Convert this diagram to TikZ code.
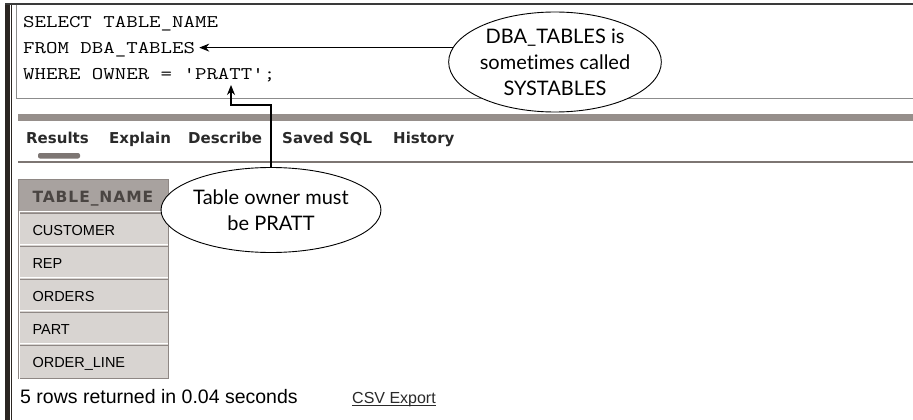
\documentclass[tikz,border=0pt]{standalone}
\usepackage{fontspec}
\usetikzlibrary{shapes.geometric,arrows.meta,calc}
\setmainfont{Liberation Sans}
\newfontfamily\monof[FakeStretch=1.25]{Latin Modern Mono}
\newfontfamily\tabf{DejaVu Sans}
\newfontfamily\hdrf[LetterSpace=6]{DejaVu Sans}
\newfontfamily\callf[Ligatures=NoCommon]{Lato}
\definecolor{topline}{HTML}{3A3A3A}
\definecolor{leftbar}{HTML}{2B2622}
\definecolor{boxborder}{HTML}{8C8C8C}
\definecolor{barcol}{HTML}{968F8B}
\definecolor{tabline}{HTML}{7D7673}
\definecolor{tabtext}{HTML}{2A2A2A}
\definecolor{cellfill}{HTML}{D8D4D1}
\definecolor{cellborder}{HTML}{8E8784}
\definecolor{hdrfill}{HTML}{A8A29F}
\definecolor{hdrtext}{HTML}{4A4542}
\begin{document}
\begin{tikzpicture}[x=1pt,y=-1pt,
  arr/.style={line width=1.1pt, -{Stealth[length=10pt,width=8pt]}},
  callout/.style={ellipse, draw, line width=0.9pt, fill=white, inner sep=0pt, align=center, font=\callf\fontsize{20}{26}\selectfont},
  sqltext/.style={anchor=base west, inner sep=0pt, font=\monof\fontsize{17.8}{24}\selectfont},
  tabtxt/.style={anchor=base west, inner sep=0pt, font=\tabf\bfseries\fontsize{15}{18}\selectfont, text=tabtext},
  cell/.style={rectangle, anchor=north west, draw=cellborder, fill=cellfill, line width=1pt, minimum height=33pt, text width=122pt, inner xsep=14pt, inner ysep=0pt, align=left, text height=10.4pt, text depth=0pt, font=\fontsize{14.5}{17}\selectfont, text=black},
  hdr/.style={cell, fill=hdrfill, text=hdrtext, font=\hdrf\bfseries\fontsize{15.5}{18}\selectfont, text height=11pt, minimum height=34pt},
  plain/.style={anchor=base west, inner sep=0pt}
]
\useasboundingbox (0,0) rectangle (913,420);
\fill[white] (0,0) rectangle (913,420);
% frame
\fill[leftbar] (5,4) rectangle (9.5,420);
\draw[leftbar, line width=1pt] (11,4) -- (11,420);
\draw[topline, line width=2pt] (5,4) -- (913,4);
\draw[boxborder, line width=1pt] (16.5,5) -- (16.5,98.5) -- (915,98.5);
\fill[barcol] (18,114) rectangle (913,121);
\fill[tabline] (18,160.5) rectangle (913,162.5);
\fill[tabline, rounded corners=2pt] (38,153) rectangle (80,158.5);
% SQL
\node[sqltext] (sql1) at (23,28) {SELECT TABLE\_NAME};
\node[sqltext] (sql2) at (23,54) {FROM DBA\_TABLES};
\node[sqltext] (sql3) at (23,80) {WHERE OWNER = 'PRATT';};
\coordinate (pratt) at (231,85);
% tabs
\node[tabtxt] (t1) at (26,143) {Results};
\node[tabtxt] (t2) at (109,143) {Explain};
\node[tabtxt] (t3) at (188,143) {Describe};
\node[tabtxt] (t4) at (282,143) {Saved SQL};
\node[tabtxt] (t5) at (393,143) {History};
% table
\node[hdr] (h) at (18,179) {TABLE\_NAME};
\node[cell] (r1) at (18,213) {CUSTOMER};
\node[cell] (r2) at (18,246) {REP};
\node[cell] (r3) at (18,279) {ORDERS};
\node[cell] (r4) at (18,312) {PART};
\node[cell] (r5) at (18,345) {ORDER\_LINE};
\foreach \n in {r1,r2,r3,r4,r5}{
  \draw[white, line width=1.2pt] ([xshift=1.5pt,yshift=-1.5pt]\n.south west) -- ([xshift=1.5pt,yshift=1.5pt]\n.north west) -- ([xshift=-1.5pt,yshift=1.5pt]\n.north east);
}
\node[plain, font=\fontsize{19.5}{22}\selectfont] (rows) at (20,403) {5 rows returned in 0.04 seconds};
\node[plain, font=\fontsize{16}{18}\selectfont, text=tabtext] (csv) at (352,403) {CSV Export};
\draw[tabtext, line width=0.8pt] ([yshift=-2.5pt]csv.base west) -- ([yshift=-2.5pt]csv.base east);
% callouts
\node[callout, minimum width=212pt, minimum height=100pt] (dba) at (555,62) {DBA\_TABLES is\\sometimes called\\SYSTABLES};
\node[callout, minimum width=187pt, minimum height=85pt] (own) at (271,210) {Table owner must\\be PRATT};
\draw[arr, shorten >=4pt] (dba.172) -- (dba.172 -| sql2.east);
\draw[arr] (own.north) -- (own.north |- 0,105) -| (pratt);
\end{tikzpicture}
\end{document}
